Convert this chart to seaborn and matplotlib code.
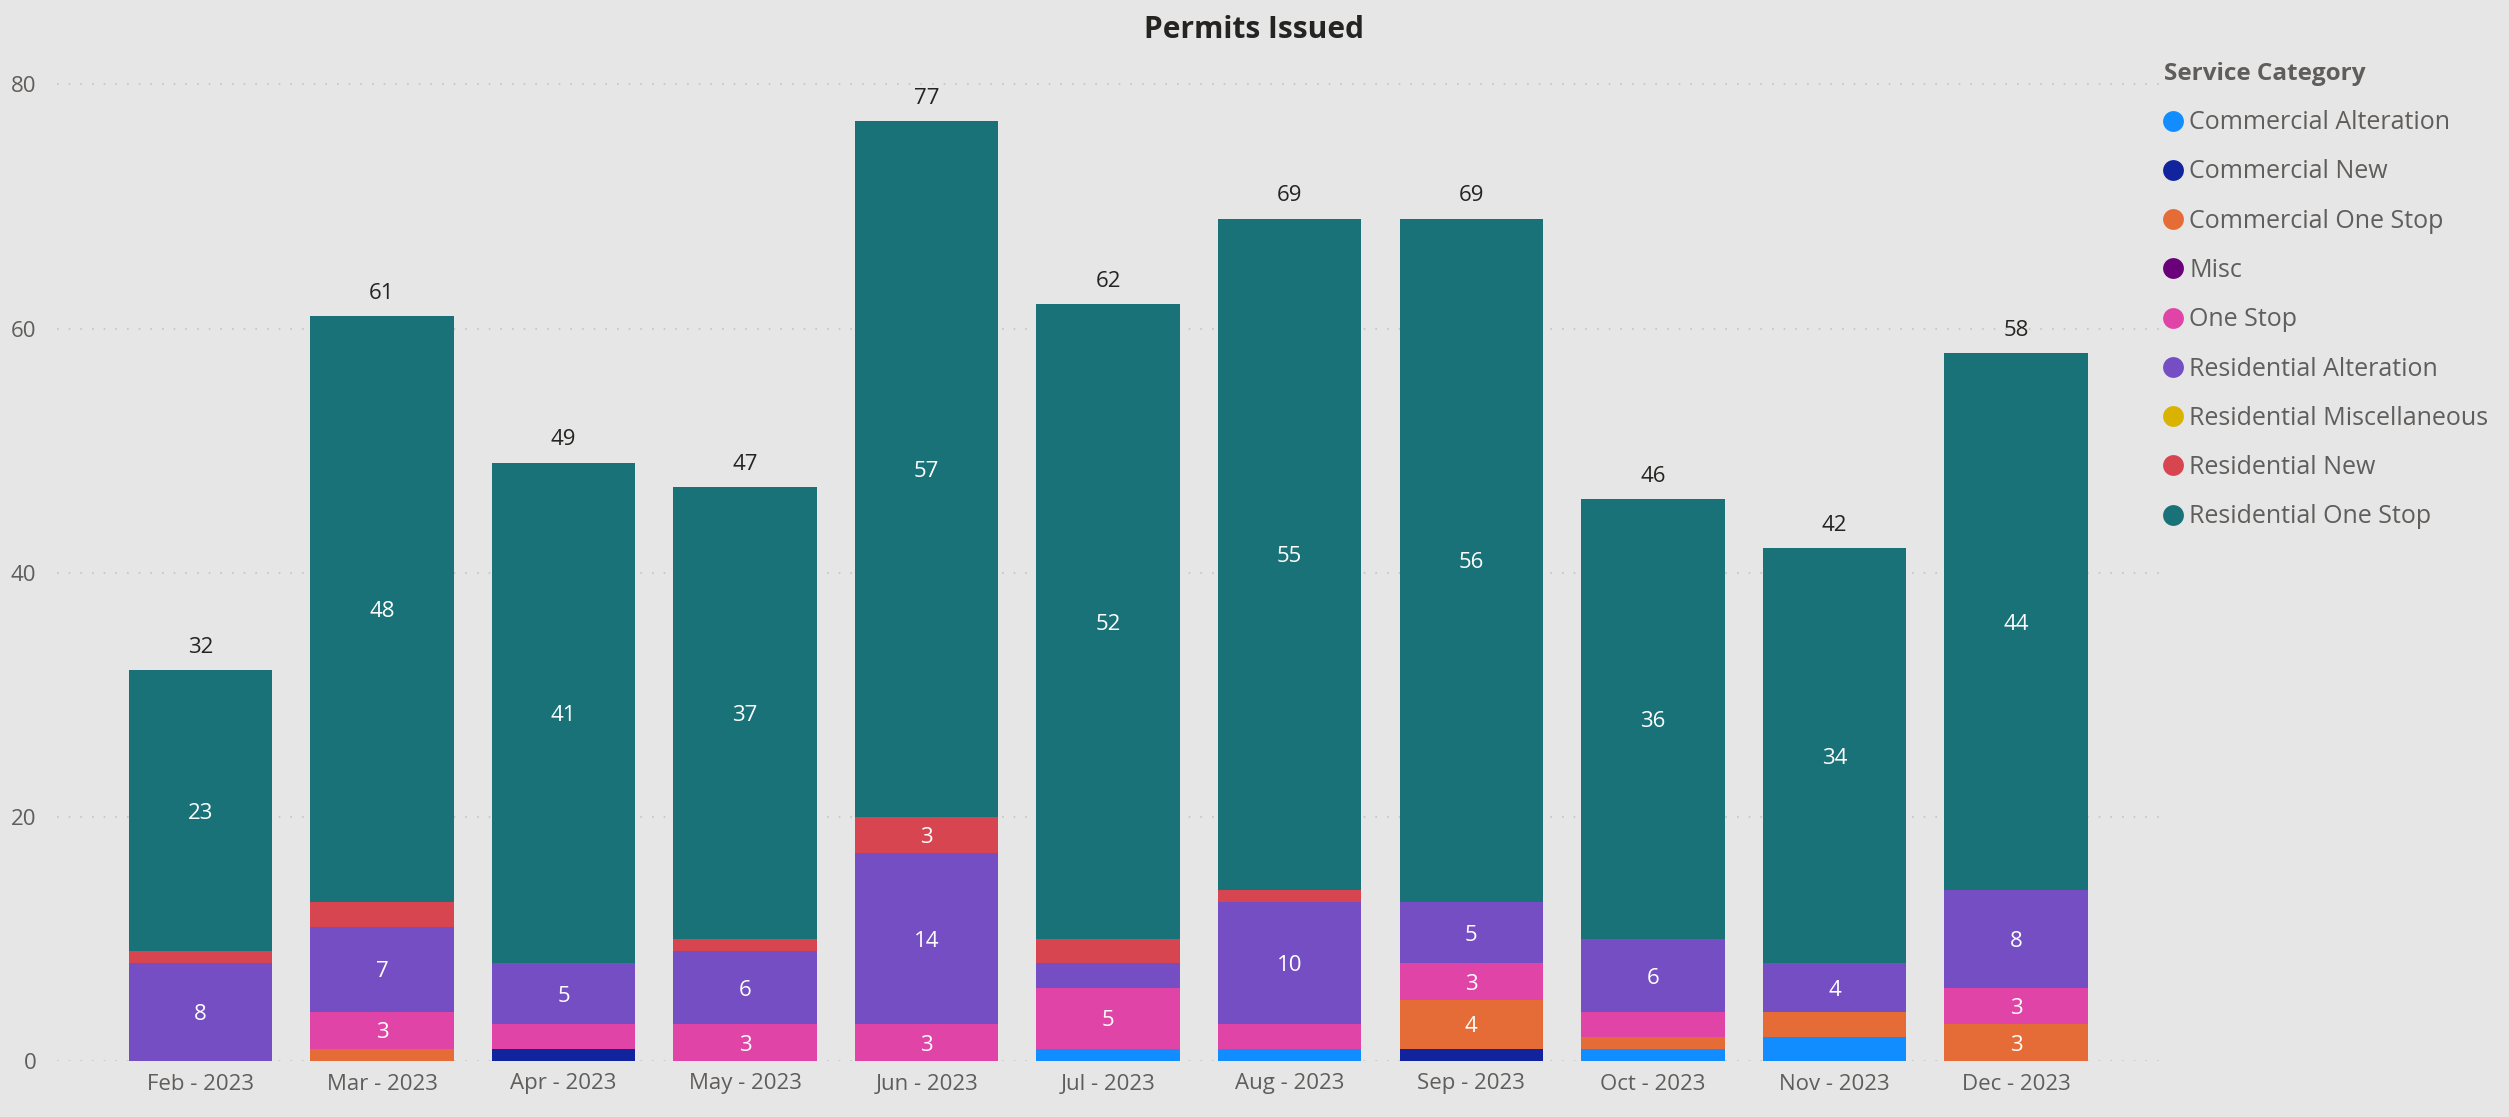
import numpy as np
import matplotlib
matplotlib.use("Agg")
import matplotlib.pyplot as plt
from matplotlib.lines import Line2D
import seaborn as sns

# ---- data -------------------------------------------------------------
months = ["Feb - 2023", "Mar - 2023", "Apr - 2023", "May - 2023", "Jun - 2023",
          "Jul - 2023", "Aug - 2023", "Sep - 2023", "Oct - 2023", "Nov - 2023",
          "Dec - 2023"]

categories = ["Commercial Alteration", "Commercial New", "Commercial One Stop",
              "Misc", "One Stop", "Residential Alteration",
              "Residential Miscellaneous", "Residential New", "Residential One Stop"]

commercial_alteration     = [0, 0, 0, 0, 0, 1, 1, 0, 1, 2, 0]
commercial_new            = [0, 0, 1, 0, 0, 0, 0, 1, 0, 0, 0]
commercial_one_stop       = [0, 1, 0, 0, 0, 0, 0, 4, 1, 2, 3]
misc                      = [0, 0, 0, 0, 0, 0, 0, 0, 0, 0, 0]
one_stop                  = [0, 3, 2, 3, 3, 5, 2, 3, 2, 0, 3]
residential_alteration    = [8, 7, 5, 6, 14, 2, 10, 5, 6, 4, 8]
residential_miscellaneous = [0, 0, 0, 0, 0, 0, 0, 0, 0, 0, 0]
residential_new           = [1, 2, 0, 1, 3, 2, 1, 0, 0, 0, 0]
residential_one_stop      = [23, 48, 41, 37, 57, 52, 55, 56, 36, 34, 44]

series = [commercial_alteration, commercial_new, commercial_one_stop, misc,
          one_stop, residential_alteration, residential_miscellaneous,
          residential_new, residential_one_stop]

palette = ["#118DFF", "#12239E", "#E66C37", "#6B007B", "#E044A7",
           "#744EC2", "#D9B300", "#D64550", "#197278"]

# ---- style ------------------------------------------------------------
BG = "#E6E6E6"
GREY = "#605E5C"
DARK = "#252423"

sns.set_theme(style="white")
plt.rcParams["font.family"] = ["Open Sans", "DejaVu Sans"]

W, H = 2509, 1117
fig = plt.figure(figsize=(W / 100, H / 100), dpi=100, facecolor=BG)
ax_left, ax_right, ax_bottom, ax_top = 57, 2163, 1061, 60
ax = fig.add_axes([ax_left / W, (H - ax_bottom) / H,
                   (ax_right - ax_left) / W, (ax_bottom - ax_top) / H])
ax.set_facecolor(BG)

# ---- stacked bars -----------------------------------------------------
bottom = np.zeros(len(months))
for name, vals, color in zip(categories, series, palette):
    vals = np.asarray(vals, dtype=float)
    sns.barplot(x=months, y=vals, bottom=bottom.copy(), color=color,
                saturation=1, width=0.79, errorbar=None, linewidth=0,
                zorder=2, ax=ax)
    for i, (v, b) in enumerate(zip(vals, bottom)):
        if v >= 3:
            ax.text(i, b + v / 2, f"{v:g}", ha="center", va="center_baseline",
                    fontsize=16, color="white", zorder=3)
    bottom += vals

for i, total in enumerate(bottom):
    ax.annotate(f"{total:g}", (i, total), xytext=(0, 12.5),
                textcoords="offset points", ha="center", va="baseline",
                fontsize=16, color=DARK)

# ---- axes -------------------------------------------------------------
ax.set_xlim(-0.79, 10.81)
ax.set_ylim(0, 82)
ax.set_yticks([0, 20, 40, 60, 80])
ax.set_xlabel("")
ax.set_ylabel("")
for s in ax.spines.values():
    s.set_visible(False)
ax.yaxis.grid(True, linestyle=(0, (1, 6)), linewidth=1.2, color="#C4C4C4")
ax.xaxis.grid(False)
ax.set_axisbelow(True)
ax.tick_params(axis="x", length=0, pad=9, labelsize=16, labelcolor=GREY)
ax.tick_params(axis="y", length=0, pad=15, labelsize=16, labelcolor=GREY)

# ---- title & legend ---------------------------------------------------
fig.text(0.5, 1 - 30 / H, "Permits Issued", ha="center", va="center",
         fontsize=21.5, fontweight="bold", color=DARK)

handles = [Line2D([], [], marker="o", linestyle="", markersize=15,
                  markerfacecolor=c, markeredgewidth=0) for c in palette]
leg = fig.legend(handles, categories, title="Service Category",
                 loc="upper left", bbox_to_anchor=(2164 / W, 1 - 62 / H),
                 frameon=False, fontsize=18, labelcolor=GREY,
                 title_fontproperties={"weight": "bold", "size": 17.5},
                 handlelength=0.75, handletextpad=0.25, labelspacing=0.97,
                 borderpad=0, borderaxespad=0, alignment="left")
leg.get_title().set_color(GREY)

fig.savefig("out.png", dpi=100, facecolor=BG)
